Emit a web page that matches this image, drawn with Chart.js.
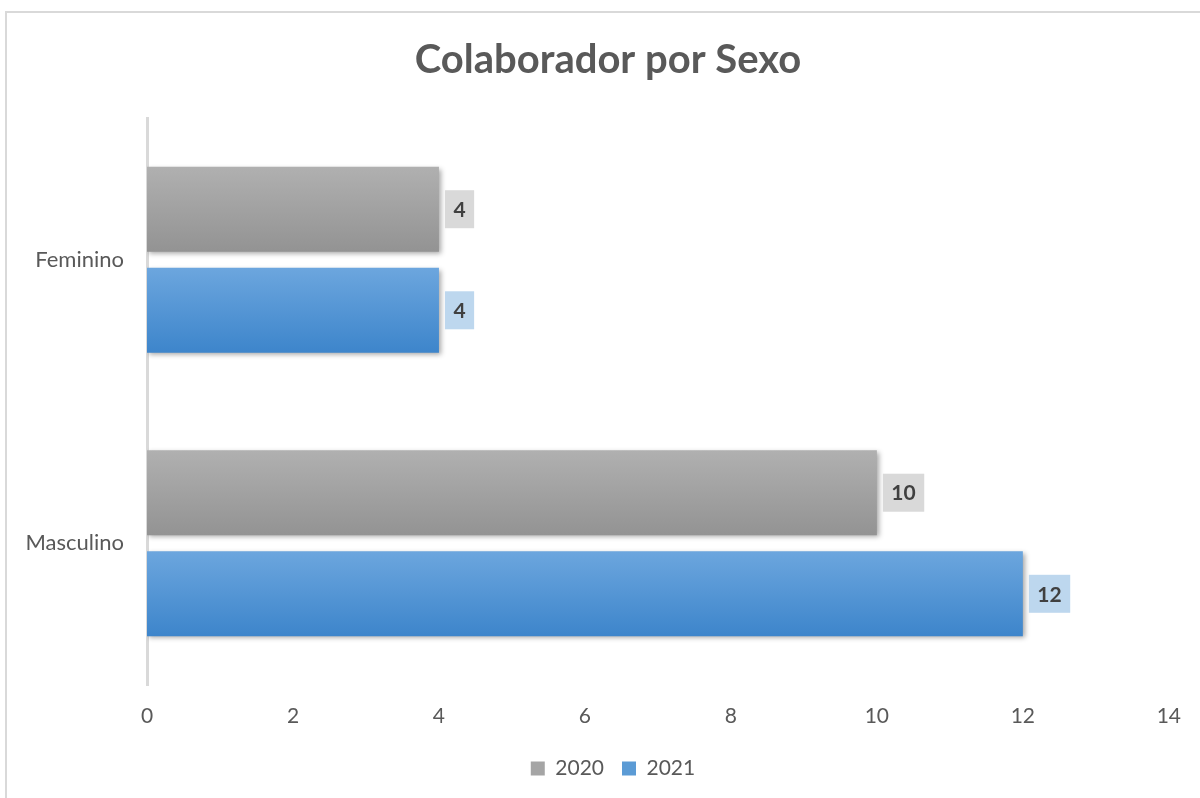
<!DOCTYPE html>
<html>
<head>
<meta charset="utf-8">
<script src="https://cdn.jsdelivr.net/npm/chart.js@4"></script>
<style>
  html, body { margin: 0; padding: 0; background: #fff; }
  #wrap { position: relative; width: 1200px; height: 798px; overflow: hidden; }
  #frame { position: absolute; left: 5px; top: 11px; width: 1300px; height: 900px; border: 2px solid #d9d9d9; box-sizing: border-box; }
  canvas { position: absolute; left: 0; top: 0; }
</style>
</head>
<body>
<div id="wrap">
  <div id="frame"></div>
  <canvas id="grafico" width="1200" height="798"></canvas>
</div>
<script>
// Données du graphique
const categorias = ['Feminino', 'Masculino'];
const anos = ['2020', '2021'];
const valores2020 = [4, 10];
const valores2021 = [4, 12];
const xTicks = [0, 2, 4, 6, 8, 10, 12, 14];

const couleurs = {
  '2020': { flat: '#a5a5a5', top: '#b0b0b0', bottom: '#939393', label: '#d9d9d9' },
  '2021': { flat: '#5b9bd5', top: '#6ca6de', bottom: '#3d85cb', label: '#bdd7ee' }
};

const FONT = 'Lato, "Open Sans", sans-serif';
const PAD_R = 30, PAD_B = 9;

// Dégradé + ombre sur les barres, puis étiquettes de valeur
const barStyle = {
  id: 'barStyle',
  afterLayout(chart) {
    // décalage horizontal du titre et de la légende (comme dans l'original)
    if (chart.titleBlock) { chart.titleBlock.left += 23; chart.titleBlock.right += 23; }
    if (chart.legend) { chart.legend.left += 28; chart.legend.right += 28; }
  },
  beforeDatasetsDraw(chart) {
    const ctx = chart.ctx;
    chart.data.datasets.forEach((ds, i) => {
      const c = couleurs[ds.label];
      chart.getDatasetMeta(i).data.forEach(el => {
        const h = el.height;
        const g = ctx.createLinearGradient(0, el.y - h / 2, 0, el.y + h / 2);
        g.addColorStop(0, c.top);
        g.addColorStop(1, c.bottom);
        el.options.backgroundColor = g;
      });
    });
    ctx.save();
    ctx.shadowColor = 'rgba(0,0,0,0.35)';
    ctx.shadowBlur = 5;
    ctx.shadowOffsetX = 2;
    ctx.shadowOffsetY = 2;
  },
  afterDatasetsDraw(chart) {
    const ctx = chart.ctx;
    ctx.restore();
    ctx.save();
    ctx.font = 'bold 21px ' + FONT;
    ctx.textBaseline = 'middle';
    ctx.textAlign = 'center';
    chart.data.datasets.forEach((ds, i) => {
      const c = couleurs[ds.label];
      chart.getDatasetMeta(i).data.forEach((el, j) => {
        const txt = String(ds.data[j]);
        const w = ctx.measureText(txt).width + 17;
        const x0 = el.x + 6;
        ctx.fillStyle = c.label;
        ctx.fillRect(x0, el.y - 19, w, 38);
        ctx.fillStyle = '#404040';
        ctx.fillText(txt, x0 + w / 2, el.y + 1);
      });
    });
    ctx.restore();
  }
};

new Chart(document.getElementById('grafico'), {
  type: 'bar',
  data: {
    labels: categorias,
    datasets: [
      { label: anos[0], data: valores2020, backgroundColor: () => couleurs['2020'].flat, borderWidth: 0 },
      { label: anos[1], data: valores2021, backgroundColor: () => couleurs['2021'].flat, borderWidth: 0 }
    ]
  },
  options: {
    indexAxis: 'y',
    responsive: false,
    animation: false,
    categoryPercentage: 0.713,
    barPercentage: 0.84,
    layout: { padding: { left: 0, right: PAD_R, top: 0, bottom: PAD_B } },
    plugins: {
      title: {
        display: true,
        text: 'Colaborador por Sexo',
        color: '#595959',
        font: { family: FONT, size: 40, weight: 'bold' },
        padding: { top: 36, bottom: 34 }
      },
      legend: {
        position: 'bottom',
        labels: {
          color: '#595959',
          font: { family: FONT, size: 21 },
          boxWidth: 14,
          boxHeight: 14,
          padding: 18
        }
      },
      tooltip: { enabled: false }
    },
    scales: {
      x: {
        min: 0,
        max: 14,
        afterBuildTicks(scale) { scale.ticks = xTicks.map(v => ({ value: v })); },
        afterFit(scale) {
          const lg = scale.chart.legend ? scale.chart.legend.height : 40;
          scale.height = scale.chart.height - 685 - lg - PAD_B;
        },
        grid: { display: false, drawTicks: false },
        border: { display: false },
        ticks: { color: '#595959', font: { family: FONT, size: 21 }, padding: 19 }
      },
      y: {
        afterFit(scale) { scale.width = 147; },
        grid: { display: false, drawTicks: false },
        border: { display: true, color: '#d9d9d9', width: 3 },
        ticks: { color: '#595959', font: { family: FONT, size: 22 }, padding: 23 }
      }
    }
  },
  plugins: [barStyle]
});
</script>
</body>
</html>
